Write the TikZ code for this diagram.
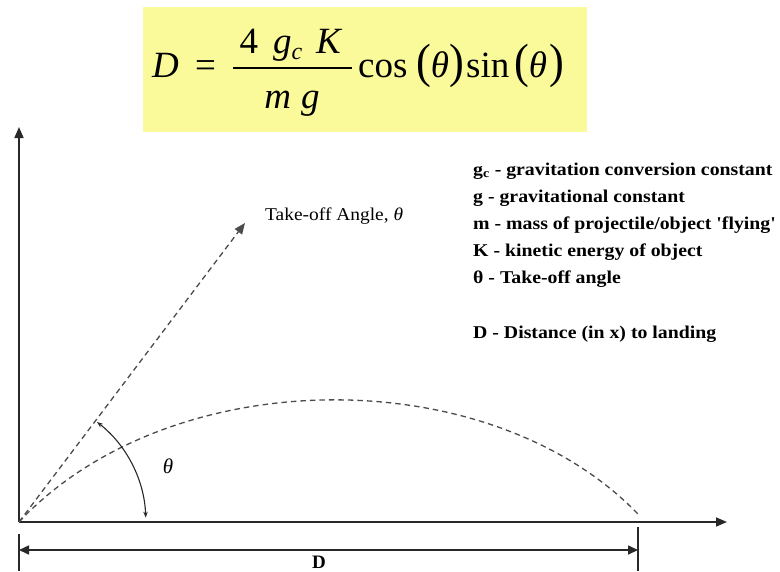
\documentclass[tikz,border=0pt]{standalone}
\usepackage{fontspec}
\setmainfont{Liberation Serif}
\usetikzlibrary{arrows.meta}
\definecolor{boxyellow}{RGB}{251,250,155}
\definecolor{axisgray}{RGB}{40,40,40}
\definecolor{dashgray}{RGB}{75,75,75}
\tikzset{
  axisline/.style={draw=axisgray, line width=1.6pt, -{Triangle[length=11pt,width=9pt]}},
  dashline/.style={draw=dashgray, line width=1.3pt, dash pattern=on 5.5pt off 4pt},
  dimline/.style={draw=axisgray, line width=1.6pt, {Triangle[length=10pt,width=9pt]}-{Triangle[length=10pt,width=9pt]}},
  extline/.style={draw=axisgray, line width=1.3pt},
  anglearc/.style={draw=axisgray, line width=1.1pt, {Stealth[length=6pt,width=4.5pt]}-{Stealth[length=6pt,width=4.5pt]}},
  legend/.style={anchor=base west, inner sep=0pt, font=\fontsize{18}{21}\selectfont\bfseries},
  plainlabel/.style={inner sep=0pt},
  eqpart/.style={inner sep=0pt, font=\fontsize{37}{40}\selectfont},
}
\newcommand{\wide}[1]{\scalebox{1.1}[1]{#1}}
\newcommand{\tparen}[1]{\scalebox{1.2}[1.3]{#1}}
\begin{document}
\begin{tikzpicture}[x=1pt,y=-1pt]
\useasboundingbox (0,0) rectangle (780,571);
% formula box
\node[fill=boxyellow, minimum width=444pt, minimum height=125pt, inner sep=0pt] (box) at (365,69.5) {};
\node[eqpart, anchor=base west] (eqD) at (152,77) {\itshape D};
\node[eqpart, anchor=base west] (eqeq) at (195,77) {=};
\coordinate (barL) at (233,68);
\coordinate (barR) at (352,68);
\draw[line width=1.5pt, black] (barL) -- (barR);
\node[eqpart, anchor=base] (eqnum) at (291,53)
  {4\hspace{15pt}\textit{g}\raisebox{-6pt}{\fontsize{24}{24}\selectfont\textit{c}}\hspace{14pt}\textit{K}};
\node[eqpart, anchor=base] (eqden) at (292,108) {\textit{m}\hspace{10pt}\textit{g}};
\node[eqpart, anchor=base west] (eqcos) at (358,77) {cos};
\node[eqpart, anchor=base west] (eqp1) at (416,77) {\tparen{(}\textit{θ}\tparen{)}};
\node[eqpart, anchor=base west] (eqsin) at (466,77) {sin};
\node[eqpart, anchor=base west] (eqp2) at (514,77) {\tparen{(}\textit{θ}\hspace{2pt}\tparen{)}};
% coordinates
\coordinate (O) at (19,522);
\coordinate (ytip) at (19,127);
\coordinate (xtip) at (727,522);
\coordinate (T) at (245,223);
\coordinate (C1) at (169,362);
\coordinate (C2) at (488,359);
\coordinate (E) at (638,514);
\coordinate (A1) at (97,422);
\coordinate (DL) at (19,550);
\coordinate (DR) at (638,550);
\coordinate (L1) at (19,534);
\coordinate (L2) at (19,571);
\coordinate (R1) at (638,527);
\coordinate (R2) at (638,571);
% axes
\draw[axisline] (O) -- (ytip);
\draw[axisline] (O) -- (xtip);
% trajectory and take-off direction
\draw[dashline] (O) .. controls (C1) and (C2) .. (E);
\draw[dashline, -{Triangle[length=11pt,width=9pt]}] (O) -- (T);
% angle arc
\draw[anglearc] (A1) arc[start angle=-52, end angle=-2, radius=127];
% dimension
\draw[extline] (L1) -- (L2);
\draw[extline] (R1) -- (R2);
\draw[dimline] (DL) -- (DR);
% labels
\node[plainlabel, anchor=base west, font=\fontsize{18}{21}\selectfont] (tolabel) at (265,220) {\scalebox{1.08}[1]{Take-off Angle, \textit{θ}}};
\node[plainlabel, font=\fontsize{21}{24}\selectfont\itshape] (thlabel) at (168,466) {θ};
\node[plainlabel, font=\fontsize{19}{22}\selectfont\bfseries] (dlabel) at (319,562) {D};
% legend
\node[legend] (l1) at (473,175) {\wide{g\textsubscript{c} - gravitation conversion constant}};
\node[legend] (l2) at (473,202) {\wide{g - gravitational constant}};
\node[legend] (l3) at (473,229) {\wide{m - mass of projectile/object \textquotesingle flying\textquotesingle}};
\node[legend] (l4) at (473,256) {\wide{K - kinetic energy of object}};
\node[legend] (l5) at (473,283) {\wide{θ - Take-off angle}};
\node[legend] (l6) at (473,338) {\wide{D - Distance (in x) to landing}};
\end{tikzpicture}
\end{document}
